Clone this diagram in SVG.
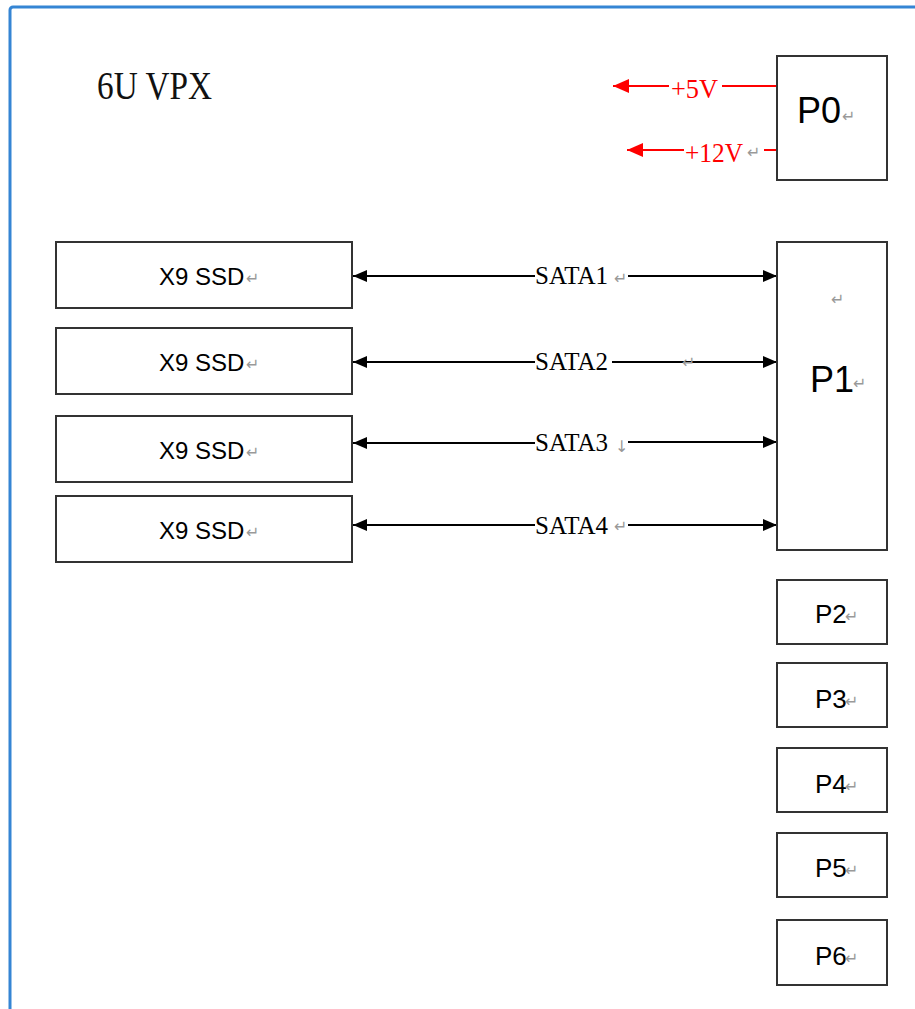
<svg xmlns="http://www.w3.org/2000/svg" width="915" height="1009" viewBox="0 0 915 1009">
<style>
.box{fill:#fff;stroke:#333;stroke-width:2}
.ln{stroke:#000;stroke-width:2;fill:none}
.rl{stroke:#f00;stroke-width:2;fill:none}
.sans{font-family:"Liberation Sans",Arial,sans-serif;fill:#000}
.serif{font-family:"Liberation Serif","Times New Roman",serif}
.sata{font-family:"Liberation Serif","Times New Roman",serif;font-size:25px;fill:#000}
.pm{font-family:"DejaVu Sans",sans-serif;fill:#999;font-size:16px}
</style>
<defs>
<marker id="ah" viewBox="0 0 14 12" refX="14" refY="6" markerWidth="14" markerHeight="12" markerUnits="userSpaceOnUse" orient="auto-start-reverse"><path d="M0,0 L14,6 L0,12 Z" fill="#000"/></marker>
<marker id="rah" viewBox="0 0 16 14" refX="16" refY="7" markerWidth="16" markerHeight="14" markerUnits="userSpaceOnUse" orient="auto-start-reverse"><path d="M0,0 L16,7 L0,14 Z" fill="#f00"/></marker>
</defs>
<rect x="0" y="0" width="915" height="1009" fill="#fff"/>
<rect id="frame" x="10" y="7" width="1000" height="1100" rx="3" fill="none" stroke="#3585D4" stroke-width="3"/>
<text class="serif" x="97" y="99" font-size="40" textLength="115" lengthAdjust="spacingAndGlyphs" fill="#111">6U VPX</text>

<g id="connectors">
<line class="rl" x1="776" y1="86" x2="722" y2="86"/>
<line class="rl" x1="669" y1="86" x2="613" y2="86" marker-end="url(#rah)"/>
<line class="rl" x1="776" y1="150" x2="764" y2="150"/>
<line class="rl" x1="684" y1="150" x2="627" y2="150" marker-end="url(#rah)"/>
<text class="serif" x="671" y="98" font-size="27" textLength="47" lengthAdjust="spacingAndGlyphs" fill="#f00">+5V</text>
<text class="serif" x="685" y="162" font-size="27" textLength="58" lengthAdjust="spacingAndGlyphs" fill="#f00">+12V</text>
<text class="pm" x="747" y="158">↵</text>

<line class="ln" x1="535" y1="276" x2="353" y2="276" marker-end="url(#ah)"/>
<line class="ln" x1="628" y1="276" x2="777" y2="276" marker-end="url(#ah)"/>
<text class="sata" x="535" y="284">SATA1</text>
<text class="pm" x="614" y="284">↵</text>

<line class="ln" x1="535" y1="362" x2="353" y2="362" marker-end="url(#ah)"/>
<line class="ln" x1="612" y1="362" x2="777" y2="362" marker-end="url(#ah)"/>
<text class="sata" x="535" y="370">SATA2</text>
<text class="pm" x="682" y="368">↵</text>

<line class="ln" x1="535" y1="443" x2="353" y2="443" marker-end="url(#ah)"/>
<line class="ln" x1="628" y1="442" x2="777" y2="442" marker-end="url(#ah)"/>
<text class="sata" x="535" y="451">SATA3</text>
<text class="pm" x="615" y="452">↓</text>

<line class="ln" x1="535" y1="525" x2="353" y2="525" marker-end="url(#ah)"/>
<line class="ln" x1="628" y1="525" x2="777" y2="525" marker-end="url(#ah)"/>
<text class="sata" x="535" y="534">SATA4</text>
<text class="pm" x="614" y="532">↵</text>
</g>

<g id="p0"><rect class="box" x="777" y="56" width="110" height="124"/><text class="sans" x="797" y="123" font-size="36" fill="#111">P0</text><text class="pm" x="842" y="122">↵</text></g>

<g id="ssd1"><rect class="box" x="56" y="242" width="296" height="66"/><text class="sans" x="159" y="285" font-size="24">X9 SSD</text><text class="pm" x="246" y="284">↵</text></g>
<g id="ssd2"><rect class="box" x="56" y="328" width="296" height="66"/><text class="sans" x="159" y="371" font-size="24">X9 SSD</text><text class="pm" x="246" y="370">↵</text></g>
<g id="ssd3"><rect class="box" x="56" y="416" width="296" height="66"/><text class="sans" x="159" y="459" font-size="24">X9 SSD</text><text class="pm" x="246" y="458">↵</text></g>
<g id="ssd4"><rect class="box" x="56" y="496" width="296" height="66"/><text class="sans" x="159" y="539" font-size="24">X9 SSD</text><text class="pm" x="246" y="538">↵</text></g>

<g id="p1"><rect class="box" x="777" y="242" width="110" height="308"/><text class="pm" x="831" y="305">↵</text><text class="sans" x="810" y="392" font-size="36" fill="#111">P1</text><text class="pm" x="853" y="389">↵</text></g>

<g id="p2"><rect class="box" x="777" y="580" width="110" height="64"/><text class="sans" x="815" y="623" font-size="26">P2</text><text class="pm" x="845" y="622">↵</text></g>
<g id="p3"><rect class="box" x="777" y="663" width="110" height="64"/><text class="sans" x="815" y="708" font-size="26">P3</text><text class="pm" x="845" y="707">↵</text></g>
<g id="p4"><rect class="box" x="777" y="748" width="110" height="64"/><text class="sans" x="815" y="793" font-size="26">P4</text><text class="pm" x="845" y="792">↵</text></g>
<g id="p5"><rect class="box" x="777" y="833" width="110" height="64"/><text class="sans" x="815" y="877" font-size="26">P5</text><text class="pm" x="845" y="876">↵</text></g>
<g id="p6"><rect class="box" x="777" y="920" width="110" height="65"/><text class="sans" x="815" y="965" font-size="26">P6</text><text class="pm" x="845" y="964">↵</text></g>
</svg>
